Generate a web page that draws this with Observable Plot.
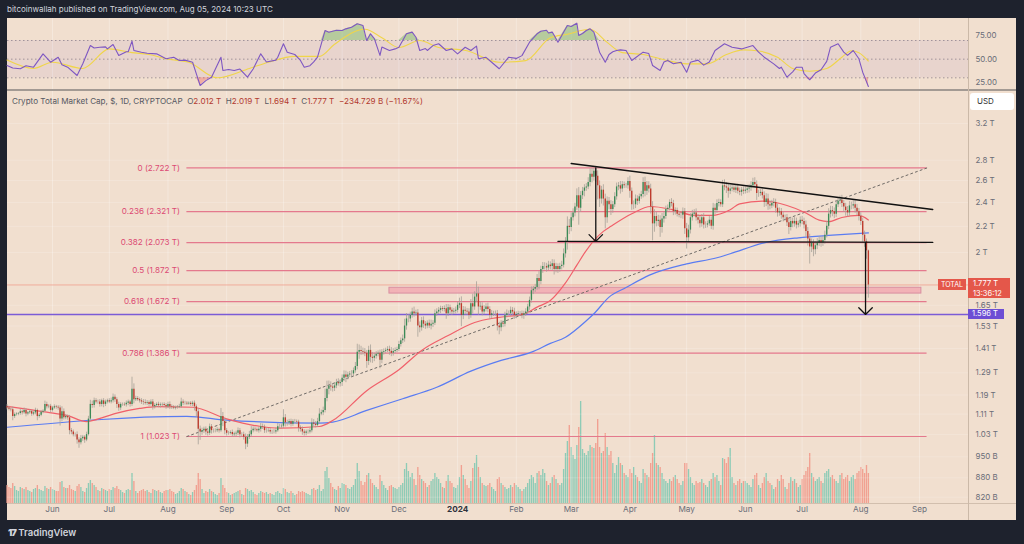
<!DOCTYPE html>
<html><head><meta charset="utf-8">
<script src="https://cdn.jsdelivr.net/npm/d3@7"></script>
<script src="https://cdn.jsdelivr.net/npm/@observablehq/plot@0.6"></script>
<style>
html,body{margin:0;padding:0;background:#1e222d;}
#root{position:relative;width:1024px;height:544px;background:#1e222d;overflow:hidden;font-family:Inter,"Noto Sans",sans-serif;}
#panel{position:absolute;left:7px;top:18px;width:1009px;height:502px;background:#f1dfcf;}
.layer{position:absolute;left:0;top:0;width:1024px;height:544px;}
.hl{position:absolute;}
.lbl{position:absolute;white-space:nowrap;box-sizing:border-box;}
</style></head>
<body><div id="root"><div id="panel"></div></div>
<script>
// ---------------- DATA ----------------
const startDate = "2023-05-08";
const firstOpen = 1.140;
// daily closes (trillion USD), May 8 2023 -> Aug 5 2024
const closeT = [
// May 2023 (8-31)
1.135,1.130,1.128,1.100,1.108,1.110,1.112,1.120,1.115,1.125,1.110,1.115,1.120,1.110,1.115,1.125,1.100,1.105,1.118,1.122,1.150,1.140,1.142,1.125,
// Jun 2023
1.135,1.140,1.138,1.135,1.090,1.120,1.095,1.100,1.095,1.045,1.040,1.030,1.030,1.010,1.000,1.015,1.020,1.010,1.030,1.090,1.150,1.145,1.165,1.160,1.160,1.150,1.165,1.150,1.160,1.165,
// Jul 2023
1.160,1.165,1.180,1.170,1.150,1.135,1.150,1.150,1.148,1.155,1.160,1.150,1.215,1.170,1.175,1.170,1.165,1.160,1.158,1.155,1.158,1.150,1.160,1.140,1.145,1.150,1.145,1.148,1.150,1.145,1.140,
// Aug 2023
1.150,1.140,1.138,1.135,1.137,1.138,1.140,1.160,1.155,1.155,1.152,1.155,1.150,1.155,1.140,1.120,1.050,1.040,1.045,1.050,1.040,1.035,1.060,1.045,1.045,1.045,1.048,1.045,1.100,1.080,1.045,
// Sep 2023
1.035,1.035,1.038,1.030,1.032,1.035,1.045,1.030,1.030,1.020,0.995,1.020,1.030,1.045,1.050,1.048,1.045,1.050,1.060,1.058,1.045,1.045,1.046,1.040,1.040,1.040,1.045,1.060,1.060,1.062,
// Oct 2023
1.095,1.075,1.075,1.080,1.070,1.080,1.080,1.078,1.055,1.050,1.040,1.035,1.040,1.040,1.045,1.075,1.070,1.065,1.080,1.110,1.115,1.125,1.175,1.215,1.230,1.225,1.220,1.230,1.245,1.240,1.245,
// Nov 2023
1.265,1.280,1.270,1.280,1.285,1.285,1.300,1.320,1.390,1.400,1.395,1.390,1.385,1.345,1.400,1.365,1.360,1.370,1.380,1.385,1.350,1.390,1.395,1.400,1.405,1.395,1.385,1.395,1.400,1.405,
// Dec 2023
1.430,1.450,1.460,1.530,1.570,1.570,1.590,1.610,1.600,1.605,1.530,1.520,1.560,1.540,1.530,1.545,1.530,1.540,1.545,1.600,1.610,1.620,1.630,1.625,1.630,1.600,1.635,1.620,1.610,1.615,1.620,
// Jan 2024
1.650,1.660,1.590,1.620,1.615,1.610,1.590,1.660,1.640,1.700,1.720,1.640,1.645,1.610,1.625,1.640,1.625,1.590,1.600,1.600,1.600,1.530,1.520,1.545,1.540,1.590,1.600,1.600,1.620,1.610,1.590,
// Feb 2024
1.595,1.600,1.600,1.590,1.600,1.610,1.640,1.680,1.740,1.750,1.760,1.820,1.800,1.880,1.900,1.900,1.890,1.910,1.900,1.920,1.880,1.900,1.880,1.900,1.910,1.990,2.080,2.200,2.190,
// Mar 2024
2.270,2.310,2.360,2.460,2.350,2.460,2.500,2.530,2.540,2.580,2.660,2.630,2.690,2.640,2.550,2.430,2.510,2.430,2.270,2.410,2.380,2.340,2.380,2.450,2.540,2.550,2.520,2.560,2.550,2.550,2.590,
// Apr 2024
2.500,2.380,2.380,2.430,2.410,2.450,2.470,2.580,2.500,2.550,2.520,2.360,2.220,2.280,2.240,2.250,2.190,2.260,2.280,2.340,2.350,2.400,2.390,2.320,2.330,2.300,2.290,2.290,2.320,2.180,
// May 2024
2.110,2.170,2.270,2.300,2.310,2.270,2.250,2.220,2.270,2.210,2.210,2.220,2.250,2.200,2.350,2.330,2.390,2.400,2.380,2.550,2.540,2.530,2.500,2.520,2.530,2.510,2.530,2.500,2.490,2.510,2.500,
// Jun 2024
2.510,2.520,2.530,2.550,2.580,2.560,2.480,2.480,2.490,2.460,2.400,2.430,2.380,2.370,2.390,2.400,2.350,2.310,2.320,2.290,2.270,2.270,2.230,2.190,2.240,2.220,2.240,2.210,2.220,2.250,
// Jul 2024
2.240,2.210,2.160,2.100,2.040,2.070,2.020,2.050,2.070,2.090,2.070,2.090,2.130,2.200,2.300,2.330,2.320,2.300,2.380,2.410,2.420,2.390,2.360,2.330,2.310,2.370,2.370,2.380,2.350,2.320,2.280,
// Aug 2024
2.240,2.130,2.080,2.012,1.777
];
// upper wick above the body, tenths of a percent
const wickUp = [
8,6,5,10,6,5,4,8,6,9,7,5,6,5,6,8,5,7,6,5,12,8,6,7,
6,7,5,6,8,18,10,8,6,9,8,7,6,10,8,12,7,6,9,10,15,12,10,8,7,9,6,8,7,6,
8,10,12,9,7,8,6,5,6,8,7,6,45,20,8,7,6,8,9,10,7,6,8,9,7,6,8,7,5,6,7,
8,9,7,6,5,6,9,14,8,7,6,5,6,7,8,7,10,12,9,8,9,8,10,8,6,7,8,6,30,15,12,
8,7,6,9,7,8,10,8,7,9,12,10,12,15,9,8,7,9,12,10,8,9,7,8,7,9,10,12,9,8,
30,12,10,8,9,7,8,6,7,8,9,8,7,8,9,15,12,10,12,20,10,12,35,30,18,15,12,10,12,14,10,
12,15,14,10,9,12,10,15,30,20,15,12,14,10,15,20,18,12,10,9,12,10,9,8,10,12,14,10,9,8,
12,10,14,25,20,15,12,14,18,10,12,15,12,14,10,9,12,15,10,14,12,10,9,8,10,15,12,10,9,10,12,
12,20,25,14,12,10,12,15,35,20,45,25,15,12,14,12,14,10,12,9,10,12,14,10,9,12,14,10,12,10,14,
10,9,8,10,9,12,10,12,14,10,12,14,25,12,15,14,12,14,12,15,14,12,10,12,14,18,15,35,25,
18,15,14,25,30,15,14,12,12,18,20,22,10,12,20,18,14,20,18,16,14,15,12,15,14,12,16,12,10,9,14,
20,12,14,15,12,10,12,18,20,16,15,18,20,25,15,18,16,20,14,12,12,10,14,12,10,9,10,12,14,12,
20,18,15,14,12,15,12,14,12,15,12,10,14,12,18,15,14,12,10,20,22,16,15,14,12,10,12,14,12,10,12,
12,14,12,15,16,18,14,12,10,12,14,20,18,15,12,14,12,15,14,12,12,10,12,14,15,12,14,12,10,12,
14,12,15,14,18,15,12,14,16,14,12,14,15,18,20,16,15,14,16,14,15,18,12,14,15,16,14,15,16,14,12,
14,12,15,10,3
];
// lower wick below the body, tenths of a percent
const wickDown = [
7,6,8,15,7,5,6,6,8,5,10,6,5,8,6,7,15,6,5,6,4,8,7,9,
6,5,7,8,25,10,8,7,9,15,10,8,9,15,20,8,10,12,6,5,8,10,9,7,8,10,9,12,8,7,
6,7,8,10,15,12,9,7,6,8,9,10,8,15,7,6,8,9,10,7,8,9,6,12,8,7,8,9,6,8,9,
7,10,8,6,7,6,5,6,9,7,6,5,7,8,15,20,55,30,12,10,12,10,8,12,9,8,7,9,6,18,15,
10,7,6,8,9,10,8,12,7,10,20,12,8,9,8,7,6,9,10,8,10,9,7,8,9,7,8,6,7,8,
8,15,12,9,10,8,7,9,15,10,12,10,9,8,7,8,10,9,7,8,6,10,9,12,20,15,14,12,10,9,12,
14,12,20,10,9,12,10,9,12,25,15,10,12,25,15,20,18,12,10,9,30,12,10,9,8,14,12,10,9,8,
8,9,10,12,15,14,12,10,12,9,40,18,12,15,12,10,9,14,12,8,10,9,12,8,9,20,10,14,12,9,10,
10,12,40,15,14,12,15,10,25,12,20,30,12,14,10,9,12,15,12,10,9,18,25,14,12,10,9,8,10,12,14,
12,10,9,12,14,10,9,12,10,14,12,10,30,12,14,12,15,10,12,14,20,12,14,10,12,10,15,30,25,
15,12,14,12,60,15,14,20,12,10,15,20,14,22,50,30,18,25,40,20,18,22,14,10,12,14,18,12,10,9,12,
25,20,18,14,15,10,9,12,20,15,14,25,60,30,20,18,35,20,15,10,9,10,12,14,12,10,9,12,14,20,
40,20,14,12,10,12,14,15,12,14,12,10,9,12,14,15,10,12,9,10,14,20,25,12,10,9,12,10,12,14,12,
10,12,14,12,10,12,25,14,10,12,18,15,20,14,10,12,18,15,12,14,15,12,14,25,12,14,12,14,10,12,
12,14,20,25,60,20,25,18,14,12,15,12,14,10,12,14,18,16,12,10,12,14,18,20,15,12,14,12,18,14,16,
15,25,20,30,47
];
// daily volume (billion USD, relative)
const volumeB = [
18,16,15,20,17,13,12,16,15,14,16,13,12,11,14,15,18,14,13,12,17,15,14,16,
14,13,12,12,21,22,16,15,15,18,14,13,12,17,19,16,12,11,15,20,23,20,18,16,13,12,15,14,13,12,
14,13,16,15,17,14,13,11,10,13,14,13,30,22,12,10,12,13,14,12,13,11,10,14,13,12,13,11,10,12,13,
13,14,12,11,9,10,12,15,14,12,11,9,8,11,13,18,30,24,14,10,12,11,14,12,11,9,8,10,25,18,15,
11,10,8,9,10,11,12,13,9,8,15,14,12,13,11,9,8,10,12,11,10,11,9,10,9,8,11,12,10,9,
15,14,11,10,12,10,8,9,12,11,12,11,10,9,8,14,15,13,14,18,12,14,32,36,25,20,16,14,13,17,15,
20,19,18,15,14,16,18,24,40,32,22,18,21,28,30,24,20,18,16,14,28,22,18,15,13,17,18,16,15,14,
16,18,20,34,40,32,26,30,24,18,36,28,24,22,20,16,18,22,24,30,26,24,20,16,15,22,28,22,20,16,15,
18,26,38,28,24,18,15,22,35,40,48,36,26,20,18,17,18,20,16,14,12,24,26,20,18,16,14,15,18,16,20,
18,16,14,12,14,16,20,24,28,26,20,30,32,28,34,30,22,18,20,26,28,24,20,18,20,34,50,62,78,
56,48,44,58,76,102,54,50,48,52,58,56,55,60,84,56,50,52,70,56,48,52,40,30,38,46,40,38,30,28,26,
34,30,36,28,26,22,20,34,30,28,26,40,50,68,40,38,36,30,24,22,20,24,22,26,28,24,20,18,22,40,
40,34,26,20,18,22,20,21,24,20,18,16,22,24,30,26,28,22,18,45,44,40,46,55,26,20,18,22,24,20,22,
22,20,18,16,24,28,30,18,15,20,26,30,22,20,18,14,16,24,22,28,24,16,14,20,26,22,24,20,16,18,
24,28,32,36,50,30,26,22,24,26,22,20,30,32,34,26,28,24,22,20,28,30,24,26,28,22,26,28,24,30,32,
36,34,30,38,30
];
// moving averages (date, trillion USD)
const ma50 = [
["2023-05-08",1.142],["2023-05-29",1.118],["2023-06-09",1.104],["2023-06-19",1.080],["2023-06-23",1.086],
["2023-07-05",1.114],["2023-07-17",1.133],["2023-07-26",1.141],["2023-08-14",1.138],["2023-09-01",1.091],
["2023-09-19",1.061],["2023-09-29",1.055],["2023-10-20",1.061],["2023-10-27",1.084],["2023-11-14",1.209],
["2023-12-01",1.305],["2023-12-13",1.400],["2023-12-27",1.478],["2024-01-10",1.550],["2024-01-22",1.578],
["2024-02-05",1.598],["2024-02-12",1.639],["2024-02-19",1.679],["2024-02-27",1.790],["2024-03-04",1.910],
["2024-03-08",1.995],["2024-03-13",2.089],["2024-03-18",2.160],["2024-03-22",2.200],["2024-04-02",2.303],
["2024-04-12",2.365],["2024-04-23",2.340],["2024-05-05",2.290],["2024-05-14",2.289],["2024-05-24",2.337],
["2024-05-29",2.388],["2024-06-10",2.411],["2024-06-23",2.374],["2024-07-03",2.310],["2024-07-10",2.250],
["2024-07-15",2.238],["2024-07-22",2.272],["2024-07-31",2.289],["2024-08-05",2.252]
];
const ma200 = [
["2023-05-08",1.058],["2023-08-11",1.101],["2023-09-01",1.086],["2023-10-20",1.074],["2023-10-27",1.078],
["2023-11-14",1.125],["2023-12-03",1.174],["2023-12-21",1.224],["2024-01-08",1.298],["2024-01-24",1.350],
["2024-02-09",1.391],["2024-02-19",1.436],["2024-02-27",1.469],["2024-03-09",1.560],["2024-03-13",1.600],
["2024-03-21",1.700],["2024-03-30",1.760],["2024-04-11",1.840],["2024-05-01",1.919],["2024-05-17",1.962],
["2024-05-24",1.991],["2024-06-12",2.075],["2024-06-29",2.110],["2024-07-17",2.130],["2024-08-05",2.148]
];
const rsiPts = [
["2023-05-08",43.2],["2023-05-11",40.5],["2023-05-15",39.7],["2023-05-18",43],["2023-05-22",41.4],["2023-05-27",55.7],["2023-05-31",46.7],["2023-06-04",52.1],
["2023-06-06",44],["2023-06-09",41.4],["2023-06-14",32.5],["2023-06-17",45],["2023-06-21",64.6],["2023-06-23",62],["2023-06-26",62.8],["2023-06-29",63.2],["2023-06-30",61],
["2023-07-03",65.7],["2023-07-06",54],["2023-07-10",57.9],["2023-07-11",58],["2023-07-13",69.3],["2023-07-14",59.3],["2023-07-18",57.5],["2023-07-21",56.4],
["2023-07-26",55.7],["2023-07-31",50.4],["2023-08-04",52],["2023-08-07",48.6],["2023-08-10",49],["2023-08-14",46.7],["2023-08-16",34.3],["2023-08-18",21.8],
["2023-08-21",27],["2023-08-24",30.7],["2023-08-29",52.1],["2023-08-30",37.8],["2023-09-02",39],["2023-09-05",37.8],["2023-09-08",39.4],
["2023-09-12",30.7],["2023-09-15",39.4],["2023-09-19",55.7],["2023-09-22",47],["2023-09-27",49],["2023-09-28",52.1],["2023-10-01",66.5],
["2023-10-03",57.5],["2023-10-07",55],["2023-10-10",48.6],["2023-10-12",41.4],["2023-10-15",43],["2023-10-17",47],["2023-10-19",52.1],["2023-10-21",66.5],
["2023-10-23",80.7],["2023-10-25",78.9],["2023-10-29",81],["2023-11-01",80.7],["2023-11-03",82.5],["2023-11-06",84.3],["2023-11-09",87.9],
["2023-11-12",86.1],["2023-11-14",70],["2023-11-16",77.2],["2023-11-18",72],["2023-11-21",54],["2023-11-22",63],["2023-11-26",59.3],
["2023-11-29",61],["2023-12-01",62.8],["2023-12-05",77.2],["2023-12-08",79],["2023-12-10",73.5],["2023-12-12",59.3],
["2023-12-15",61.4],["2023-12-16",59.3],["2023-12-19",64.6],["2023-12-22",66.5],["2023-12-26",59.3],["2023-12-29",61],["2024-01-01",55.7],
["2024-01-05",62.8],["2024-01-08",59.3],["2024-01-11",64],["2024-01-12",50.4],["2024-01-16",52],["2024-01-19",46.7],
["2024-01-23",39.7],["2024-01-28",52.1],["2024-02-01",50.8],["2024-02-04",53.8],["2024-02-08",68.2],["2024-02-12",77.2],
["2024-02-14",80],["2024-02-17",81],["2024-02-18",78],["2024-02-20",79],["2024-02-21",75.7],["2024-02-23",68.2],["2024-02-28",86.1],["2024-03-01",85],
["2024-03-04",88.6],["2024-03-05",75.4],["2024-03-07",77.5],["2024-03-09",80.7],["2024-03-11",82.5],["2024-03-13",79],["2024-03-16",57.5],
["2024-03-19",46.7],["2024-03-21",55],["2024-03-23",57.9],["2024-03-25",59.3],["2024-03-27",60],["2024-03-30",59.3],["2024-04-02",48.6],["2024-04-08",57.5],
["2024-04-11",56],["2024-04-13",43.2],["2024-04-17",37.8],["2024-04-19",47],["2024-04-21",48.6],["2024-04-24",45],["2024-04-28",46.7],["2024-05-01",36],
["2024-05-03",46.7],["2024-05-07",49],["2024-05-10",43.6],["2024-05-13",47],["2024-05-16",59.3],["2024-05-21",66.5],["2024-05-25",62.8],
["2024-05-30",61],["2024-06-05",64.6],["2024-06-08",57.5],["2024-06-11",52.1],["2024-06-16",45],["2024-06-19",40],["2024-06-20",41.4],
["2024-06-23",30.7],["2024-06-26",36.4],["2024-06-28",41.4],["2024-07-01",41.4],["2024-07-02",34.6],["2024-07-05",27.9],["2024-07-08",35.1],["2024-07-11",38.7],
["2024-07-14",47.6],["2024-07-16",62.8],["2024-07-20",66.5],["2024-07-23",57.5],["2024-07-25",54],["2024-07-28",59.3],
["2024-07-31",50.4],["2024-08-02",36],["2024-08-03",31],["2024-08-05",20.7]
];
const rsiMA = [
["2023-05-08",49],["2023-05-22",40],["2023-06-01",46.7],["2023-06-17",40],["2023-07-01",61],["2023-07-13",57],
["2023-07-22",55],["2023-07-31",50.4],["2023-08-12",46.7],["2023-08-27",30],["2023-09-13",40],["2023-09-23",46.7],
["2023-10-07",53],["2023-10-20",53],["2023-10-28",66],["2023-11-13",82],["2023-11-22",73],["2023-12-01",62.5],
["2023-12-12",70],["2023-12-22",62.5],["2024-01-06",59],["2024-01-23",46.7],["2024-02-06",48.4],["2024-02-19",73],
["2024-02-28",76.8],["2024-03-11",82],["2024-03-20",68],["2024-03-28",57],["2024-04-08",55],["2024-04-21",48.4],
["2024-05-01",45],["2024-05-12",45],["2024-05-22",55],["2024-05-31",60],["2024-06-09",58.4],["2024-06-18",52],
["2024-06-26",40],["2024-07-05",37],["2024-07-14",40],["2024-07-22",52],["2024-07-27",59],["2024-07-31",57],["2024-08-05",48]
];
const rsiBands = [70, 50, 30];
const rsiTicks = [75, 50, 25];
// axes
const monthDates = ["2023-06-01","2023-07-01","2023-08-01","2023-09-01","2023-10-01","2023-11-01","2023-12-01","2024-01-01",
  "2024-02-01","2024-03-01","2024-04-01","2024-05-01","2024-06-01","2024-07-01","2024-08-01","2024-09-01"];
const monthLabels = ["Jun","Jul","Aug","Sep","Oct","Nov","Dec","2024","Feb","Mar","Apr","May","Jun","Jul","Aug","Sep"];
const priceTicks = [3.2,2.8,2.6,2.4,2.2,2,1.65,1.53,1.41,1.29,1.19,1.11,1.03,0.95,0.88,0.82];
const priceTickLabels = ["3.2 T","2.8 T","2.6 T","2.4 T","2.2 T","2 T","1.65 T","1.53 T","1.41 T","1.29 T","1.19 T","1.11 T","1.03 T","950 B","880 B","820 B"];
// drawings
const fibRatios = ["0","0.236","0.382","0.5","0.618","0.786","1"];
const fibValues = [2.722,2.321,2.073,1.872,1.672,1.386,1.023];
const fibSpan = ["2023-08-11","2024-09-05"];
const fibTrend = [["2023-08-11",1.023],["2024-09-05",2.722]];
const resistance = [["2024-03-01",2.766],["2024-09-08",2.339]];
const neckline = [["2024-02-23",2.083],["2024-09-08",2.075]];
const arrowDates = ["2024-03-14T00:00Z","2024-08-03T12:00Z"];
const arrowFrom = [2.722, 2.075];
const arrowTo = [2.083, 1.596];
const zone = {from:"2023-11-26", to:"2024-09-02", low:1.722, high:1.759};
const targetLevel = 1.596;
const lastClose = 1.777;

// ---------------- BUILD ----------------
const FONT = "Inter, 'Noto Sans', sans-serif";
const DAY = 86400000;
const T0 = Date.parse(startDate + "T00:00Z");
const JUN1 = Date.UTC(2023, 5, 1);
const D0 = new Date(JUN1 - 23.77 * DAY), D1 = new Date(JUN1 + 483.89 * DAY);
const pd = s => new Date(s.length === 10 ? s + "T00:00Z" : s);

const candles = closeT.map((c, i) => {
  const o = i ? closeT[i - 1] : firstOpen;
  return {date: new Date(T0 + i * DAY), open: o, close: c,
    high: Math.max(o, c) * (1 + wickUp[i] / 1000),
    low: Math.min(o, c) * (1 - wickDown[i] / 1000),
    vol: volumeB[i], up: c >= o};
});
const months = monthDates.map((d, i) => ({date: pd(d), label: monthLabels[i], bold: monthLabels[i] === "2024"}));
const toPts = arr => arr.map(([d, v]) => ({date: pd(d), v}));
const rsi = toPts(rsiPts), rsiM = toPts(rsiMA);
const fibs = fibValues.map((v, i) => ({v, label: `${fibRatios[i]} (${v.toFixed(3)} T)`}));
const arrows = arrowDates.map((d, i) => ({x: pd(d), y1: arrowFrom[i], y2: arrowTo[i]}));
const common = {width: 1024, height: 544, marginLeft: 7, marginRight: 56,
  style: {background: "transparent", overflow: "visible", fontFamily: FONT}};
const xOpt = {type: "utc", domain: [D0, D1], axis: null};
const root = document.getElementById("root");
function addLayer(svg) { const d = document.createElement("div"); d.className = "layer"; d.appendChild(svg); root.appendChild(d); }

// volume layer
const volPlot = Plot.plot({...common, marginTop: 373, marginBottom: 41, x: xOpt,
  y: {domain: [0, 130], axis: null}, color: {type: "identity"},
  marks: [Plot.ruleX(candles, {x: "date", y1: 0, y2: "vol", stroke: d => d.up ? "#8ecbb6" : "#f1a091", strokeWidth: 1.35})]
});
addLayer(volPlot);

// main price layer
const main = Plot.plot({...common, marginTop: 90, marginBottom: 41, x: xOpt,
  y: {type: "log", domain: [0.8014, 3.609], axis: null}, color: {type: "identity"},
  marks: [
    Plot.ruleX(months, {x: "date", stroke: "#ffffff", strokeOpacity: 0.28}),
    Plot.ruleY(priceTicks, {stroke: "#ffffff", strokeOpacity: 0.18}),
    Plot.rect([zone], {x1: d => pd(d.from), x2: d => pd(d.to), y1: "low", y2: "high", fill: "#f1a3ad", fillOpacity: 0.75, stroke: "#d98fa0", strokeWidth: 1}),
    Plot.ruleY(fibs, {y: "v", x1: () => pd(fibSpan[0]), x2: () => pd(fibSpan[1]), stroke: "#e4798d", strokeWidth: 1.1}),
    Plot.text(fibs, {x: () => pd(fibSpan[0]), y: "v", text: "label", textAnchor: "end", dx: -7, fill: "#dc4a73", fontSize: 8.1}),
    Plot.ruleY([lastClose], {stroke: "#f0a08f", strokeWidth: 1, strokeOpacity: 0.8}),
    Plot.ruleY([targetLevel], {stroke: "#7b5bd6", strokeWidth: 1.6}),
    Plot.line(toPts(fibTrend), {x: "date", y: "v", stroke: "#6f6a66", strokeWidth: 1, strokeDasharray: "2,3"}),
    Plot.line(toPts(ma200), {x: "date", y: "v", stroke: "#5a7cf2", strokeWidth: 1.2, curve: "monotone-x", clip: true}),
    Plot.line(toPts(ma50), {x: "date", y: "v", stroke: "#f0606a", strokeWidth: 1.2, curve: "monotone-x", clip: true}),
    Plot.ruleX(candles, {x: "date", y1: "low", y2: "high", stroke: "#a7a198", strokeWidth: 0.8}),
    Plot.ruleX(candles, {x: "date", y1: "open", y2: "close", stroke: d => d.up ? "#3b8a56" : "#bf3a2c", strokeWidth: 1.35}),
    Plot.line(toPts(resistance), {x: "date", y: "v", stroke: "#111", strokeWidth: 1.4}),
    Plot.line(toPts(neckline), {x: "date", y: "v", stroke: "#111", strokeWidth: 1.4}),
    Plot.arrow(arrows, {x1: "x", x2: "x", y1: "y1", y2: "y2", stroke: "#111", strokeWidth: 1.3, headLength: 11, headAngle: 90}),
    Plot.text(priceTicks, {y: d => d, text: (d, i) => priceTickLabels[i], frameAnchor: "right", dx: 7, textAnchor: "start", fill: "#6a6d78", fontSize: 7.9}),
    Plot.text(months.filter(m => !m.bold), {x: "date", text: "label", frameAnchor: "bottom", dy: 8, fill: "#6a6d78", fontSize: 8.2}),
    Plot.text(months.filter(m => m.bold), {x: "date", text: "label", frameAnchor: "bottom", dy: 8, fill: "#2f323c", fontSize: 8.2, fontWeight: "bold"})
  ]
});
addLayer(main);

// RSI layer
const rsiPlot = Plot.plot({...common, marginTop: 18, marginBottom: 454, x: xOpt,
  y: {domain: [16.4, 93.6], axis: null},
  marks: [
    Plot.ruleX(months, {x: "date", stroke: "#ffffff", strokeOpacity: 0.28}),
    Plot.rect([{a: D0, b: D1}], {x1: "a", x2: "b", y1: 30, y2: 70, fill: "#7e57c2", fillOpacity: 0.08}),
    Plot.ruleY(rsiBands, {stroke: "#a0939a", strokeDasharray: "1.5,2.5", strokeWidth: 1}),
    Plot.areaY(rsi, {x: "date", y1: 70, y2: d => Math.max(d.v, 70), fill: "#6fb35f", fillOpacity: 0.45}),
    Plot.areaY(rsi, {x: "date", y1: 30, y2: d => Math.min(d.v, 30), fill: "#ef5350", fillOpacity: 0.35}),
    Plot.line(rsiM, {x: "date", y: "v", stroke: "#f0d54a", strokeWidth: 1.1, curve: "monotone-x"}),
    Plot.line(rsi, {x: "date", y: "v", stroke: "#7e57c2", strokeWidth: 1.1}),
    Plot.text(rsiTicks, {y: d => d, text: d => d.toFixed(2), frameAnchor: "right", dx: 7, textAnchor: "start", fill: "#6a6d78", fontSize: 7.9})
  ]
});
addLayer(rsiPlot);

// chrome & labels positioned from the plot scales
const ys = main.scale("y"), xs = main.scale("x");
const xR = xs.range[1];
const yTop = ys.range[1], yBot = ys.range[0];
function el(cls, css, html) { const d = document.createElement("div"); d.className = cls; Object.assign(d.style, css); if (html != null) d.innerHTML = html; root.appendChild(d); return d; }
el("hl", {left: "7px", top: (yTop - 1) + "px", width: "1009px", height: "1.5px", background: "#a39a93"});
el("hl", {left: "7px", top: yBot + "px", width: "1009px", height: "1px", background: "#d2bfae"});
el("hl", {left: xR + "px", top: "18px", width: "1px", height: "502px", background: "#cbb9a8"});
el("lbl", {left: "7px", top: "4px", color: "#d1d4dc", fontSize: "8px"}, "bitcoinwallah published on TradingView.com, Aug 05, 2024 10:23 UTC");
el("lbl", {left: "12px", top: "96px", color: "#555862", fontSize: "8.1px"},
  "Crypto Total Market Cap, $, 1D, CRYPTOCAP&nbsp;&nbsp;O<span style='color:#b23a30'>2.012 T</span>&nbsp;&nbsp;H<span style='color:#b23a30'>2.019 T</span>&nbsp;&nbsp;L<span style='color:#b23a30'>1.694 T</span>&nbsp;&nbsp;C<span style='color:#b23a30'>1.777 T</span>&nbsp;&nbsp;<span style='color:#b23a30'>\u2212234.729 B (\u221211.67%)</span>");
el("lbl", {left: (xR + 2) + "px", top: (yTop + 3) + "px", width: "44px", height: "17px", background: "#ffffff", borderRadius: "3px", color: "#333", fontSize: "8px", lineHeight: "17px", paddingLeft: "7px"}, "USD");
const yc = ys.apply(lastClose);
el("lbl", {left: (xR - 30) + "px", top: (yc - 5) + "px", width: "28px", height: "11px", background: "#e4574a", color: "#fff", fontSize: "7px", lineHeight: "11px", textAlign: "center"}, "TOTAL");
el("lbl", {left: xR + "px", top: (yc - 6) + "px", width: "42px", height: "20px", background: "#e4574a", color: "#fff", fontSize: "7.5px", lineHeight: "9.5px", paddingLeft: "5px", paddingTop: "1px"}, "1.777 T<br>13:36:12");
const yt = ys.apply(targetLevel);
el("lbl", {left: xR + "px", top: (yt - 5) + "px", width: "36px", height: "10px", background: "#6d4ed4", color: "#fff", fontSize: "7.5px", lineHeight: "10px", paddingLeft: "4px"}, "1.596 T");
el("lbl", {left: "8px", top: "527px", color: "#d1d4dc", fontSize: "9.5px", fontWeight: "600"}, "<span style='font-weight:900;letter-spacing:-1px'>17</span>&nbsp;TradingView");
</script></body></html>
